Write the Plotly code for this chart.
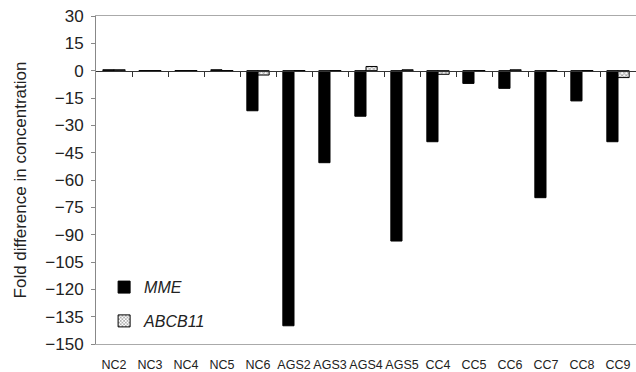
import plotly.graph_objects as go

categories = ["NC2", "NC3", "NC4", "NC5", "NC6", "AGS2", "AGS3", "AGS4", "AGS5",
              "CC4", "CC5", "CC6", "CC7", "CC8", "CC9"]
mme = [0.5, 0, 0, 0.5, -22, -140, -50.5, -25, -93.5, -39, -7, -9.7, -69.7, -16.6, -39]
abcb11 = [0.5, 0, 0, 0, -2.4, 0, 0, 2.3, 0.5, -2, 0, 0.5, 0, 0, -3.8]
yticks = list(range(30, -151, -15))

xi = list(range(len(categories)))

fig = go.Figure()
fig.add_trace(go.Bar(x=xi, y=mme, name="MME", legendgroup="a",
                     marker=dict(color="black", line=dict(color="black", width=1))))
fig.add_trace(go.Bar(x=xi, y=abcb11, name="ABCB11", legendgroup="b",
                     marker=dict(color="white", line=dict(color="black", width=1),
                                 pattern=dict(shape="x", fgcolor="#444", bgcolor="white",
                                              size=3, solidity=0.5))))
# invisible trace on the zero-line axis to show boundary ticks
fig.add_trace(go.Scatter(x=[-0.5, len(categories) - 0.5], y=[0, 0], xaxis="x2",
                         mode="lines", line=dict(color="rgba(0,0,0,0)"),
                         showlegend=False, hoverinfo="skip"))

ymin, ymax = -150, 30
zero_pos = (0 - ymin) / (ymax - ymin)

fig.update_layout(
    width=636, height=372,
    margin=dict(l=96, r=0, t=16, b=28),
    paper_bgcolor="white", plot_bgcolor="white",
    barmode="group", bargap=0.38, bargroupgap=0,
    font=dict(family="Liberation Sans, Arial, sans-serif", color="#222"),
    showlegend=True,
    legend=dict(x=0.015, y=0.225, xanchor="left", yanchor="top",
                font=dict(size=16, style="italic", color="#222"),
                bgcolor="rgba(0,0,0,0)", tracegroupgap=10, itemwidth=30),
    xaxis=dict(range=[-0.5, len(categories) - 0.5], tickmode="array",
               tickvals=xi, ticktext=categories,
               ticks="outside", ticklen=9, tickcolor="rgba(0,0,0,0)",
               tickfont=dict(size=12.5, color="#222"),
               showline=True, linecolor="#aaa", linewidth=1, mirror=True,
               showgrid=False, zeroline=False),
    xaxis2=dict(range=[-0.5, len(categories) - 0.5], overlaying="x",
                anchor="free", position=zero_pos, side="bottom",
                tickmode="array", tickvals=[i + 0.5 for i in range(len(categories) - 1)],
                ticks="outside", ticklen=5, tickcolor="#333", tickwidth=1,
                showticklabels=False, showline=True, linecolor="#333", linewidth=1,
                showgrid=False, zeroline=False),
    yaxis=dict(range=[ymin, ymax], tickmode="array", tickvals=yticks,
               ticks="outside", ticklen=4, tickcolor="#888",
               tickfont=dict(size=17, color="#222"), ticklabelstandoff=4,
               showline=True, linecolor="#888", linewidth=1, mirror=True,
               showgrid=False, zeroline=False,
               title=dict(text="Fold difference in concentration",
                          font=dict(size=17, color="#222"), standoff=14)),
)

fig.write_html("out.html")
